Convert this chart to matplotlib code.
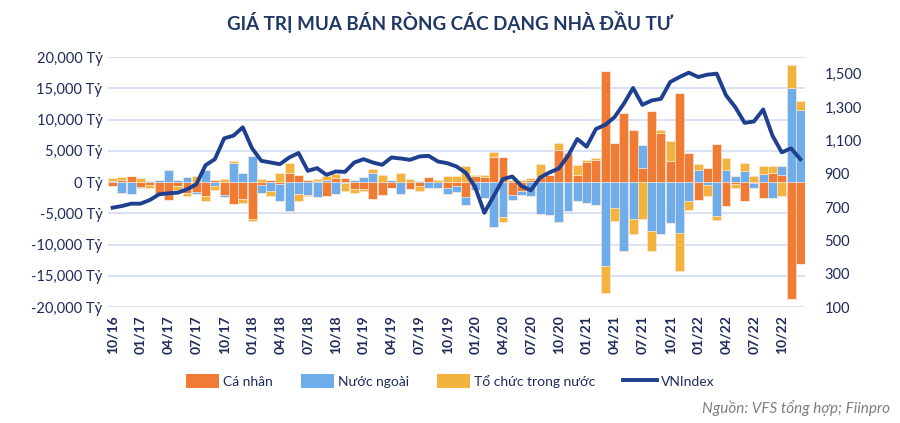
import matplotlib
matplotlib.use("Agg")
import matplotlib.pyplot as plt
from matplotlib.patches import Patch
from matplotlib.lines import Line2D
import numpy as np

plt.rcParams['font.family'] = ['Lato', 'DejaVu Sans']

# 75 months: 10/2016 .. 12/2022
months = [f"{m:02d}/{y % 100:02d}" for y in range(2016, 2023) for m in range(1, 13)]
months = months[9:]  # start at 10/16

ca_nhan = [-0.6, 0.3, 1.0, -0.8, -0.4, -1.9, -2.8, -0.7, -1.8, -1.6,
           -2.3, 0.3, -2.1, -3.5, -2.7, -5.9, -0.5, 0.3, -0.3, 1.5,
           1.2, 0.4, 0.2, -2.3, 0.6, 0.6, -1.1, -1.1, -2.7, -2.1,
           -1.0, 0.0, -1.1, -0.7, 0.75, 0.0, -0.9, -0.7, -2.4, 1.0,
           0.8, 4.0, 4.0, -2.1, -1.5, 0.3, 0.75, 1.2, 5.1, 4.7,
           1.2, 3.2, 3.5, 17.8, 6.3, 11.1, 8.3, 2.3, 11.3, 7.9,
           3.4, 14.3, 4.6, -2.8, 2.2, 6.1, -3.8, -0.3, -3.0, -0.2,
           -2.6, 1.4, 1.2, -18.7, -13.1]
nuoc_ngoai = [0.2, -1.7, -1.9, -0.2, 0.1, 0.3, 2.0, 0.4, 0.8, -0.3,
              1.9, -0.7, -0.3, 3.0, 1.5, 4.1, -1.3, -1.4, -2.8, -4.6,
              -1.9, -2.1, -2.4, 0.3, -1.9, -0.1, 0.3, 0.8, 1.4, 0.0,
              0.3, -1.9, 0.0, 0.2, -1.0, -1.0, -1.0, -0.9, -1.2, -1.2,
              -2.6, -7.2, -5.6, -0.7, -0.6, -2.3, -5.1, -5.3, -6.4, -4.6,
              -3.0, -3.3, -3.7, -13.4, -4.2, -11.1, -5.9, 3.7, -7.8, -8.3,
              -6.6, -8.1, -3.1, 2.0, -0.4, -5.4, 1.9, 1.0, 1.7, -0.8,
              1.3, -2.6, 1.3, 15.0, 11.5]
to_chuc = [0.4, 0.5, 0.0, 0.6, -0.5, 0.0, 0.0, -0.6, -0.4, 0.9,
           -0.7, -0.6, 0.5, 0.4, -0.6, -0.3, 0.5, -0.9, 1.4, 1.6,
           -1.2, -0.2, 0.3, 0.7, 0.7, -1.4, -0.6, -0.3, 0.7, 1.2,
           0.0, 1.4, 0.5, -0.7, 0.0, 0.4, 1.0, 0.9, 2.6, 0.2,
           0.3, 0.8, -0.8, 0.3, 0.4, 0.3, 2.1, 0.0, 1.1, 0.0,
           1.5, 0.4, 0.4, -4.3, -2.1, 0.0, -2.4, -5.9, -3.3, 0.5,
           3.2, -6.1, -1.3, 0.9, -1.8, -0.7, 1.9, -0.7, 1.4, 1.0,
           1.3, 1.2, -2.3, 3.8, 1.5]
vnindex = [696, 706, 720, 720, 742, 776, 782, 786, 806, 836,
           951, 987, 1112, 1128, 1178, 1052, 977, 967, 957, 997,
           1024, 917, 933, 893, 913, 911, 967, 987, 967, 953,
           997, 991, 983, 1003, 1007, 973, 963, 943, 905, 820,
           665, 766, 867, 883, 826, 800, 877, 907, 931, 1007,
           1108, 1062, 1168, 1193, 1239, 1319, 1414, 1313, 1339, 1349,
           1450, 1480, 1506, 1480, 1494, 1500, 1370, 1299, 1205, 1213,
           1285, 1128, 1028, 1052, 987]

series = [("Cá nhân", ca_nhan, "#EF7B35"),
          ("Nước ngoài", nuoc_ngoai, "#6EADEA"),
          ("Tổ chức trong nước", to_chuc, "#F2B33F")]

navy = "#1F2A5C"
line_col = "#1F3F8F"
grid_col = "#D5DFF3"

fig = plt.figure(figsize=(9, 4.23), dpi=100)
ax = fig.add_axes([108/900, 1-307/423, (805-108)/900, 250/423])
x = np.arange(len(months))

pos_base = np.zeros(len(x))
neg_base = np.zeros(len(x))
for name, vals, col in series:
    v = np.array(vals) * 1000
    p = np.where(v > 0, v, 0)
    n = np.where(v < 0, v, 0)
    ax.bar(x, p, bottom=pos_base, width=0.96, color=col, edgecolor="#FCE9DA",
           linewidth=0.4, zorder=2)
    ax.bar(x, n, bottom=neg_base, width=0.96, color=col, edgecolor="#FCE9DA",
           linewidth=0.4, zorder=2)
    pos_base += p
    neg_base += n

ax.set_xlim(-0.5, len(x) - 0.5)
ax.set_ylim(-20000, 20000)
yt = np.arange(-20000, 20001, 5000)
ax.set_yticks(yt)
ax.set_yticklabels([f"{v:,} Tỷ" for v in yt], color=navy, fontsize=10.5)
ax.grid(axis="y", color=grid_col, linewidth=1.3, zorder=0)
ax.set_axisbelow(True)
tick_idx = list(range(0, len(x), 3))
ax.set_xticks(tick_idx)
ax.set_xticklabels([months[i] for i in tick_idx], rotation=90, color=navy,
                   fontsize=10, fontweight="bold")
ax.tick_params(length=0, pad=6)
ax.tick_params(axis="y", pad=4)
for s in ax.spines.values():
    s.set_visible(False)

ax2 = ax.twinx()
ax2.plot(x, vnindex, color=line_col, linewidth=2.8, zorder=5, solid_joinstyle="round")
ax2.set_ylim(100, 1600)
rt = np.arange(100, 1501, 200)
ax2.set_yticks(rt)
ax2.set_yticklabels([f"{v:,}" for v in rt], color=navy, fontsize=10.5)
ax2.tick_params(length=0, pad=14)
for s in ax2.spines.values():
    s.set_visible(False)

fig.text(0.5, 1-22/423, "GIÁ TRỊ MUA BÁN RÒNG CÁC DẠNG NHÀ ĐẦU TƯ",
         ha="center", va="center", fontsize=13.5, fontweight="bold", color="#1F3864")

handles = [Patch(facecolor=c, edgecolor="none") for _, _, c in series]
handles.append(Line2D([0], [0], color=line_col, linewidth=2.8))
labels = [n for n, _, _ in series] + ["VNIndex"]
fig.legend(handles, labels, loc="center", bbox_to_anchor=(0.5, 1-381/423),
           ncol=4, frameon=False, fontsize=10, handlelength=2.4,
           handleheight=1.1, columnspacing=2.0, handletextpad=0.3,
           labelcolor=navy)

fig.text(890/900, 1-408/423, "Nguồn: VFS tổng hợp; Fiinpro", ha="right",
         va="center", fontsize=11, style="italic", color="#7F7F7F")

fig.savefig("out.png", dpi=100)
